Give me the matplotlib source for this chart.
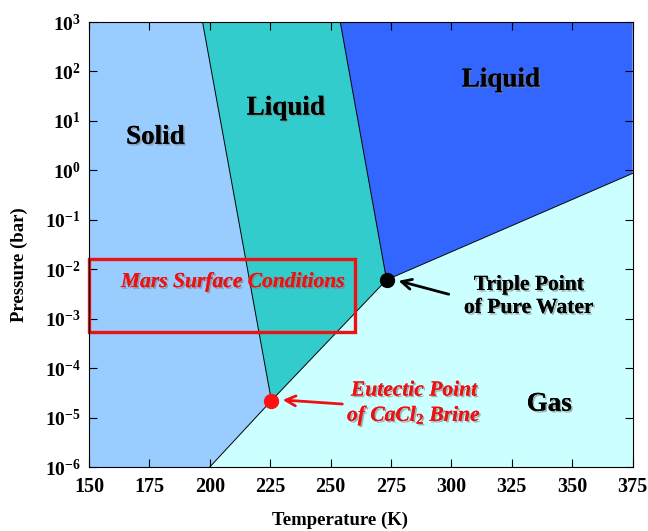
import numpy as np
import matplotlib
matplotlib.use('Agg')
import matplotlib.pyplot as plt
import matplotlib.patheffects as pe
from matplotlib.patches import Polygon, Rectangle

plt.rcParams['font.family'] = 'Liberation Serif'
plt.rcParams['mathtext.fontset'] = 'custom'
plt.rcParams['mathtext.rm'] = 'Liberation Serif:bold'
plt.rcParams['mathtext.bf'] = 'Liberation Serif:bold'
plt.rcParams['mathtext.it'] = 'Liberation Serif:bold:italic'

# phase boundaries (T in K, P in bar)
T_min, T_max = 150, 375
P_min, P_max = 1e-6, 1e3
triple_T, triple_P = 273.16, 6.1e-3
eutectic_T, eutectic_P = 225.5, 2.2e-5
brine_top_T = 197.0        # brine liquid / solid line at P_max
water_top_T = 254.0        # pure water melting line at P_max
sublim_bottom_T = 200.0    # solid / gas line at P_min
vapor_right_P = 0.87       # vapour line at T_max

mars_T = [150, 260]
mars_P = [5.5e-4, 0.016]

x_ticks = [150, 175, 200, 225, 250, 275, 300, 325, 350, 375]
y_exps = [-6, -5, -4, -3, -2, -1, 0, 1, 2, 3]

col_solid = '#99CCFF'
col_brine = '#33CCCC'
col_water = '#3366FF'
col_gas = '#CCFFFF'

fig = plt.figure(figsize=(6.48, 5.31), dpi=100)
ax = fig.add_axes([0.1373, 0.1205, 0.839, 0.838])
ax.set_yscale('log')
ax.set_xlim(T_min, T_max)
ax.set_ylim(P_min, P_max)

regions = [
    ([T_min, sublim_bottom_T, eutectic_T, brine_top_T, T_min],
     [P_min, P_min, eutectic_P, P_max, P_max], col_solid),
    ([eutectic_T, triple_T, water_top_T, brine_top_T],
     [eutectic_P, triple_P, P_max, P_max], col_brine),
    ([triple_T, T_max, T_max, water_top_T],
     [triple_P, vapor_right_P, P_max, P_max], col_water),
    ([sublim_bottom_T, T_max, T_max, triple_T, eutectic_T],
     [P_min, P_min, vapor_right_P, triple_P, eutectic_P], col_gas),
]
for ts, ps, c in regions:
    ax.add_patch(Polygon(np.column_stack([ts, ps]), closed=True,
                         facecolor=c, edgecolor='none', zorder=1))

# boundary lines
lines = [
    ([brine_top_T, eutectic_T], [P_max, eutectic_P]),
    ([sublim_bottom_T, eutectic_T, triple_T, T_max],
     [P_min, eutectic_P, triple_P, vapor_right_P]),
    ([triple_T, water_top_T], [triple_P, P_max]),
]
for ts, ps in lines:
    ax.plot(ts, ps, color='black', lw=0.7, zorder=2)

# Mars box
ax.add_patch(Rectangle((mars_T[0], mars_P[0]), mars_T[1] - mars_T[0],
                       mars_P[1] - mars_P[0], fill=False, edgecolor='#EE1111',
                       lw=2.4, zorder=4, clip_on=False))

ax.plot(triple_T, triple_P, 'o', color='black', ms=10, zorder=5)
ax.plot(eutectic_T, eutectic_P, 'o', color='#FF1111', ms=10, zorder=5)

shadow = [pe.withSimplePatchShadow(offset=(1.2, -1.2), shadow_rgbFace='gray', alpha=0.6),
          pe.Normal()]

for s, t, p in [('Solid', 177.5, 10**0.67), ('Liquid', 231.5, 10**1.26),
                ('Liquid', 320.5, 10**1.83), ('Gas', 340.5, 10**-4.73)]:
    ax.text(t, p, s, fontsize=19.5, fontweight='bold', ha='center', va='center',
            zorder=6, path_effects=shadow)

ax.text(209.5, 10**-2.26, 'Mars Surface Conditions', fontsize=15.5,
        fontweight='bold', style='italic', color='#EE1111', ha='center',
        va='center', zorder=6, path_effects=shadow)

ax.text(332, 10**-2.55, 'Triple Point\nof Pure Water', fontsize=15.5,
        fontweight='bold', ha='center', va='center', linespacing=1.2,
        zorder=6, path_effects=shadow)
ax.annotate('', xy=(277, 10**-2.22), xytext=(300, 10**-2.52),
            arrowprops=dict(arrowstyle='->', color='black', lw=2,
                            mutation_scale=18), zorder=6)

ax.text(284.5, 10**-4.73, 'Eutectic Point\nof CaCl$_2$ Brine', fontsize=15.5,
        fontweight='bold', style='italic', color='#EE1111', ha='center',
        va='center', linespacing=1.2, zorder=6, path_effects=shadow)
ax.annotate('', xy=(229, 10**-4.64), xytext=(256, 10**-4.73),
            arrowprops=dict(arrowstyle='->', color='#EE1111', lw=2,
                            mutation_scale=18), zorder=6)

ax.set_xticks(x_ticks)
ax.set_xticklabels([str(v) for v in x_ticks], fontsize=14.5, fontweight='bold')
ax.set_yticks([10.0**e for e in y_exps])
ax.set_yticklabels([r'$\mathbf{10^{%d}}$' % e for e in y_exps], fontsize=14)
ax.minorticks_off()
ax.tick_params(direction='in', length=6, width=0.8, top=True, right=True)
ax.tick_params(axis='x', pad=7)
ax.tick_params(axis='y', pad=6)
for sp in ax.spines.values():
    sp.set_linewidth(0.8)
    sp.set_zorder(7)

ax.set_xlabel('Temperature (K)', fontsize=13.5, fontweight='bold')
ax.xaxis.set_label_coords(0.462, -0.1)
ax.set_ylabel('Pressure (bar)', fontsize=13.5, fontweight='bold')
ax.yaxis.set_label_coords(-0.112, 0.454)

fig.savefig('out.png', dpi=100)
